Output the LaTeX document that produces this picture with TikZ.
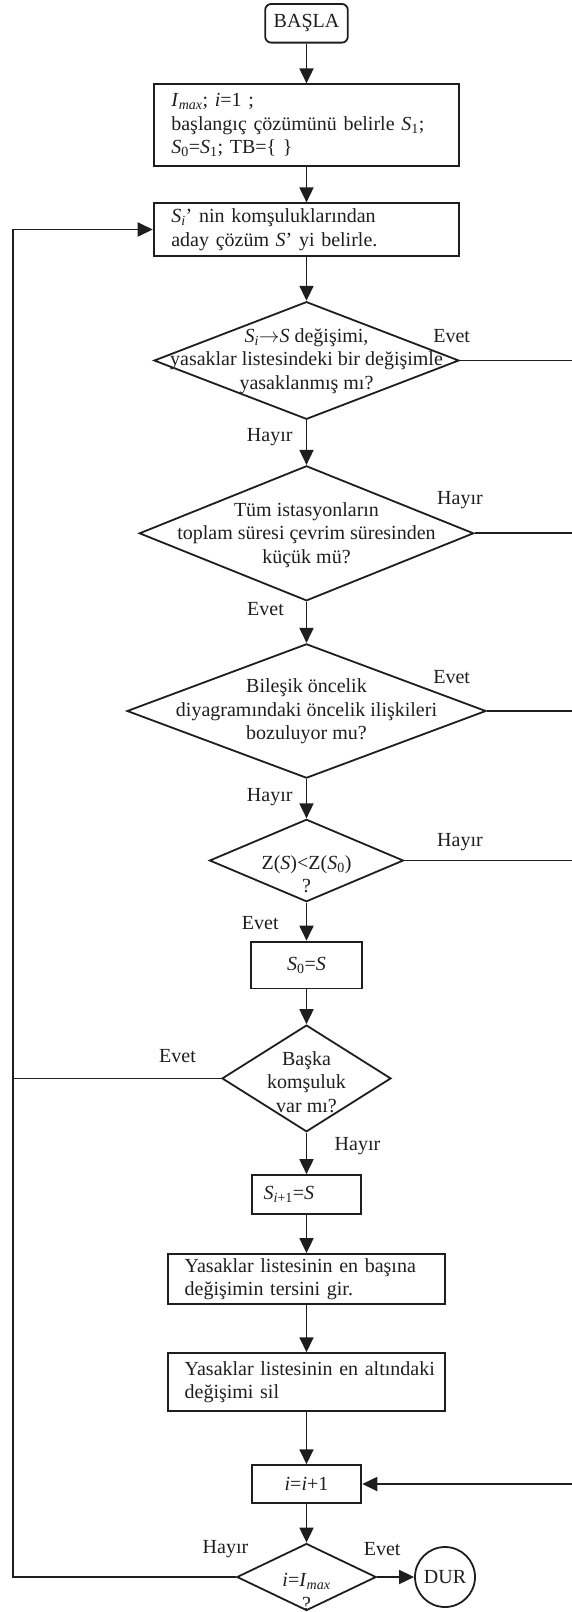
\documentclass[tikz,border=0pt]{standalone}
\usepackage{fontspec}
\setmainfont{Liberation Serif}
\usetikzlibrary{shapes.geometric,arrows.meta}

\definecolor{inkgray}{RGB}{30,30,30}
\tikzset{
  every node/.style={font=\fontsize{20bp}{23.5bp}\selectfont, text=inkgray},
  flow/.style={draw=inkgray, line width=1.8bp, -{Triangle[length=15bp,width=14bp]}},
  joinline/.style={draw=inkgray, line width=1.8bp},
  box/.style={draw=inkgray, line width=1.8bp, rectangle, inner sep=0pt, align=center},
  leftbox/.style={box, align=left},
  decision/.style={draw=inkgray, line width=1.8bp, diamond, inner sep=0pt},
  dtext/.style={align=center, inner sep=0pt},
  answer/.style={inner sep=0pt}
}

\begin{document}
\begin{tikzpicture}[x=1bp,y=-1bp]
  \clip (0,0) rectangle (572,1612);
  %%%%%%%%%%%%%The start%%%%%%%%%%%%%%%%%%%%%%
  \node[box, rounded corners=6bp, minimum width=82.6bp, minimum height=38.7bp] (basla) at (306.5,23.3) {BAŞLA};
  \node[leftbox, inner xsep=17.7bp, text width=270.3bp, minimum height=81.4bp] (init) at (306.5,125)
    {\textit{I}\textsubscript{\textit{max}}; \textit{i}=1 ;\\ başlangıç çözümünü belirle \textit{S}\textsubscript{1};\\ \textit{S}\textsubscript{0}=\textit{S}\textsubscript{1}; TB=\{ \}};
  \node[leftbox, inner xsep=17.7bp, text width=270.3bp, minimum height=52.4bp] (neigh) at (306.5,229.5)
    {\textit{S}\textsubscript{\textit{i}}’ nin komşuluklarından\\ aday çözüm \textit{S}’ yi belirle.};

  %%%%%%%%%%%%%The checks%%%%%%%%%%%%%%%%%%%%%%
  \node[decision, minimum width=305bp, minimum height=117.6bp] (tabu) at (306.5,360.5) {};
  \node[dtext] (tabutext) at (306.5,361)
    {\textit{S}\textsubscript{\textit{i}}$\rightarrow$\textit{S} değişimi,\\ yasaklar listesindeki bir değişimle\\ yasaklanmış mı?};
  \node[decision, minimum width=334.4bp, minimum height=135bp] (time) at (306.5,533.3) {};
  \node[dtext] (timetext) at (306.5,535)
    {Tüm istasyonların\\ toplam süresi çevrim süresinden\\ küçük mü?};
  \node[decision, minimum width=359bp, minimum height=134.3bp] (prec) at (306.5,711) {};
  \node[dtext] (prectext) at (306.5,711.5)
    {Bileşik öncelik\\ diyagramındaki öncelik ilişkileri\\ bozuluyor mu?};
  \node[decision, minimum width=194bp, minimum height=82.4bp] (zcheck) at (306.5,860.5) {};
  \node[dtext] (zchecktext) at (306.5,874)
    {Z(\textit{S})<Z(\textit{S}\textsubscript{0})\\ ?};

  %%%%%%%%%%%%%The update%%%%%%%%%%%%%%%%%%%%%%
  \node[box, minimum width=110.3bp, minimum height=46.8bp] (best) at (306.5,965)
    {\textit{S}\textsubscript{0}=\textit{S}};
  \node[decision, minimum width=169bp, minimum height=106.7bp] (more) at (306.5,1078.4) {};
  \node[dtext] (moretext) at (306.5,1082) {Başka\\ komşuluk\\ var mı?};
  \node[leftbox, inner xsep=12bp, text width=85.7bp, minimum height=39.3bp] (next) at (306.5,1194.7)
    {\textit{S}\textsubscript{\textit{i}+1}=\textit{S}};
  \node[leftbox, inner xsep=17bp, text width=243.7bp, minimum height=50bp] (addtabu) at (306.5,1279)
    {\mbox{Yasaklar listesinin en başına}\\ \mbox{değişimin tersini gir.}};
  \node[leftbox, inner xsep=17bp, text width=243.7bp, minimum height=57.7bp] (deltabu) at (306.5,1382)
    {\mbox{Yasaklar listesinin en altındaki}\\ \mbox{değişimi sil}};
  \node[box, minimum width=109.7bp, minimum height=37.7bp] (incr) at (306.5,1484)
    {\textit{i}=\textit{i}+1};

  %%%%%%%%%%%%%The end%%%%%%%%%%%%%%%%%%%%%%
  \node[decision, minimum width=139.3bp, minimum height=67bp] (last) at (306.5,1577) {};
  \node[dtext] (lasttext) at (306.5,1592)
    {\textit{i}=\textit{I}\textsubscript{\textit{max}}\\ ?};
  \node[draw=inkgray, circle, line width=1.8bp, minimum size=60bp, inner sep=0pt] (dur) at (445,1577) {DUR};

  \coordinate (rrail) at (580,0);
  \coordinate (lrail) at (13,0);

  %%%%%%%%%%%%%The arrows%%%%%%%%%%%%%%%%%%%%%%
  \draw[flow] (basla) -- (init);
  \draw[flow] (init) -- (neigh);
  \draw[flow] (neigh) -- (tabu);
  \draw[flow] (tabu) -- (time);
  \draw[flow] (time) -- (prec);
  \draw[flow] (prec) -- (zcheck);
  \draw[flow] (zcheck) -- (best);
  \draw[flow] (best) -- (more);
  \draw[flow] (more) -- (next);
  \draw[flow] (next) -- (addtabu);
  \draw[flow] (addtabu) -- (deltabu);
  \draw[flow] (deltabu) -- (incr);
  \draw[flow] (incr) -- (last);
  \draw[flow] (last) -- (dur);

  \draw[flow] (tabu.east) -- (tabu.east -| rrail) |- (incr.east);
  \draw[joinline] (time.east) -- (time.east -| rrail);
  \draw[joinline] (prec.east) -- (prec.east -| rrail);
  \draw[joinline] (zcheck.east) -- (zcheck.east -| rrail);
  \draw[flow] (last.west) -- (last.west -| lrail) |- (neigh.west);
  \draw[joinline] (more.west) -- (more.west -| lrail);

  %%%%%%%%%%%%%The answers%%%%%%%%%%%%%%%%%%%%%%
  \node[answer] (tabuyes) at (451.7,336) {Evet};
  \node[answer] (tabuno) at (269.7,437) {Hayır};
  \node[answer] (timeno) at (460,500.5) {Hayır};
  \node[answer] (timeyes) at (265.5,609.5) {Evet};
  \node[answer] (precyes) at (451.7,677) {Evet};
  \node[answer] (precno) at (269.7,797.5) {Hayır};
  \node[answer] (zno) at (460,842.5) {Hayır};
  \node[answer] (zyes) at (260.3,923) {Evet};
  \node[answer] (moreyes) at (177.5,1056.3) {Evet};
  \node[answer] (moreno) at (357.5,1145.8) {Hayır};
  \node[answer] (lastno) at (225.5,1548.7) {Hayır};
  \node[answer] (lastyes) at (382.2,1548.7) {Evet};
\end{tikzpicture}
\end{document}
